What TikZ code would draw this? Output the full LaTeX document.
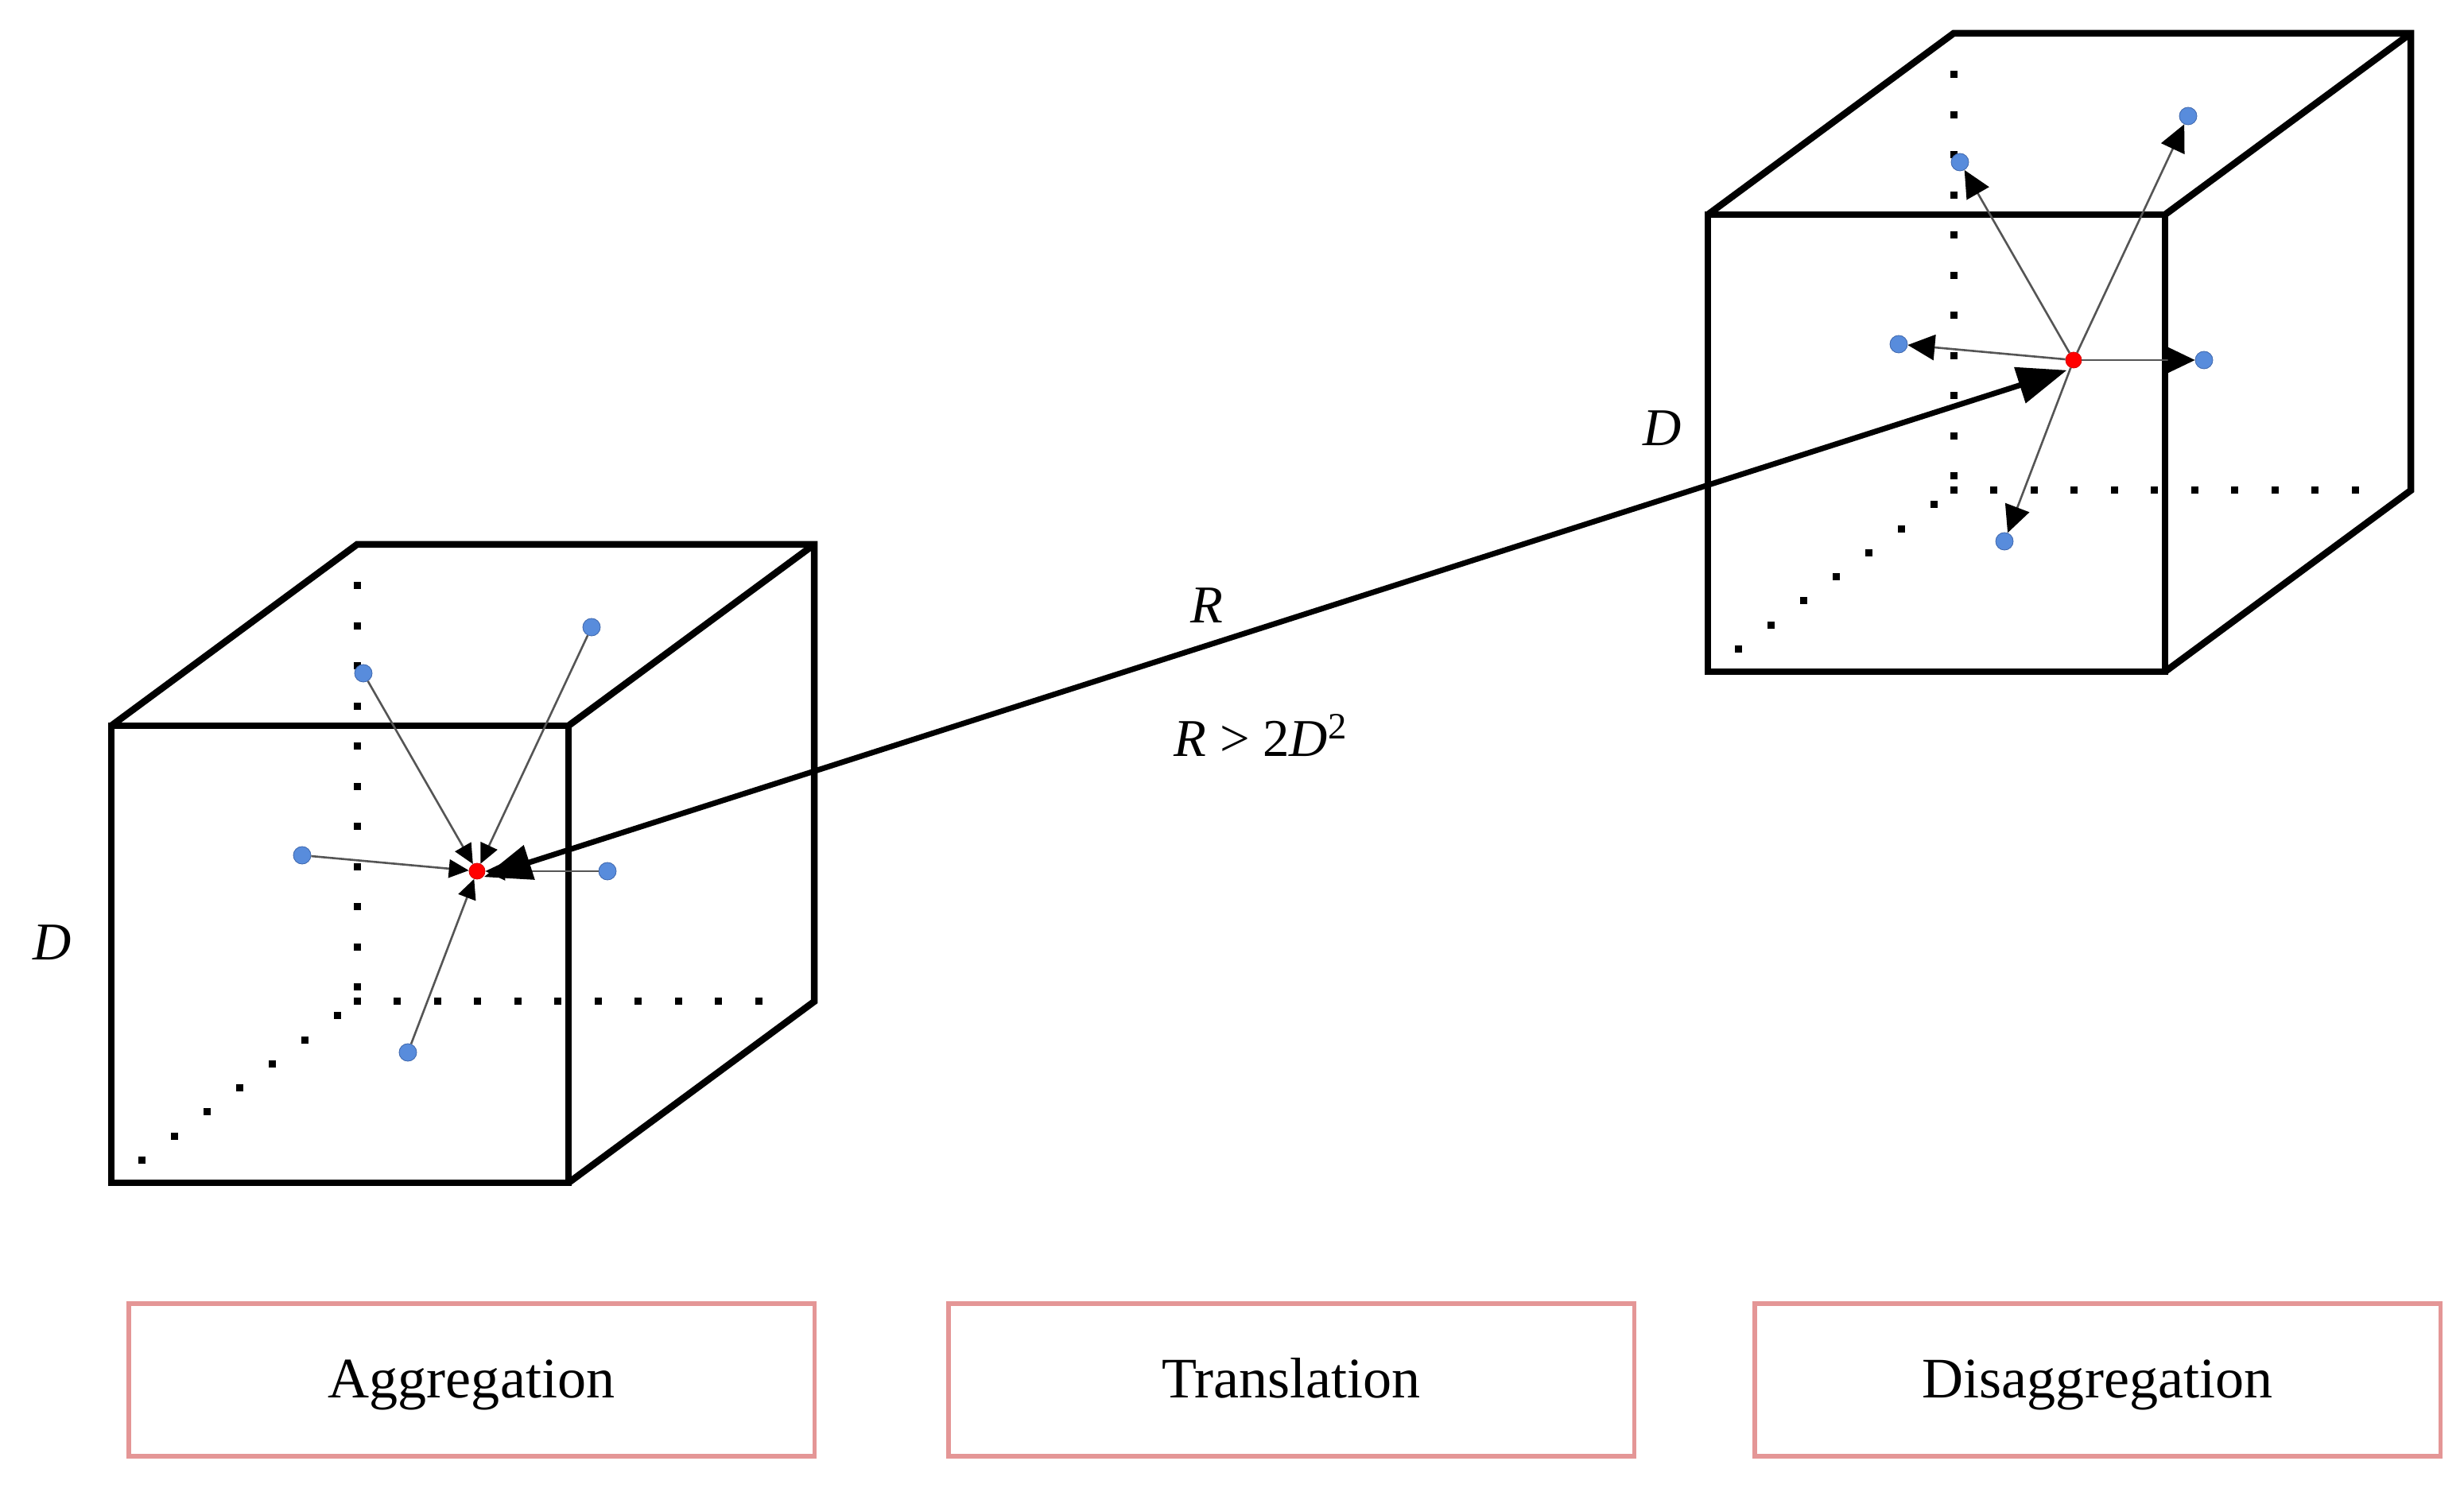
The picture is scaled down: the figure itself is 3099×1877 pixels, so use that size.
\documentclass[tikz,border=0pt]{standalone}
\usepackage{fontspec}
\setmainfont{Liberation Serif}
\usetikzlibrary{arrows.meta}
\definecolor{bluedot}{RGB}{88,140,220}
\definecolor{bluedraw}{RGB}{62,102,172}
\definecolor{boxred}{RGB}{228,150,150}
\definecolor{thingray}{RGB}{85,85,85}
\tikzset{
  cubeline/.style={line width=0.085cm, line join=miter, black},
  bdot/.style={circle, fill=bluedot, draw=bluedraw, line width=0.008cm, minimum size=0.22cm, inner sep=0pt},
  rdot/.style={circle, fill=red, draw=red!85!black, line width=0.008cm, minimum size=0.2cm, inner sep=0pt},
  aggarrow/.style={line width=0.026cm, thingray, -{Triangle[length=0.25cm, width=0.23cm, color=black, fill=black]}},
  disarrow/.style={line width=0.026cm, thingray, -{Triangle[length=0.34cm, width=0.32cm, color=black, fill=black]}},
  mainarrow/.style={line width=0.07cm, black, {Triangle[length=0.6cm, width=0.44cm]}-{Triangle[length=0.62cm, width=0.46cm]}},
  lab/.style={font=\fontsize{19pt}{22pt}\selectfont, inner sep=0pt},
  phase/.style={draw=boxred, line width=0.055cm, minimum width=8.62cm, minimum height=1.92cm, inner sep=0pt, text height=13pt, text depth=0pt, font=\fontsize{20.5pt}{24pt}\selectfont},
  cubepic/.pic={
    \coordinate (-ftl) at (0,0);
    \coordinate (-ftr) at (575,0);
    \coordinate (-fbr) at (575,575);
    \coordinate (-fbl) at (0,575);
    \coordinate (-btl) at (309,-228);
    \coordinate (-btr) at (884,-228);
    \coordinate (-bbr) at (884,347);
    \coordinate (-bbl) at (309,347);
    \foreach \k in {0,...,10} {
      \fill[black] ({309}, {347-18-50.5*\k}) +(-4.5,-4.5) rectangle +(4.5,4.5);
      \fill[black] ({309+50.5*\k}, {347}) +(-4.5,-4.5) rectangle +(4.5,4.5);
    }
    \foreach \k in {0,...,6} {
      \fill[black] ({309-0.8047*(30+51*\k)}, {347+0.5937*(30+51*\k)}) +(-4.5,-4.5) rectangle +(4.5,4.5);
    }
    \draw[cubeline] (-ftl) -- (-ftr) -- (-fbr) -- (-fbl) -- cycle;
    \draw[cubeline] (-ftl) -- (-btl) -- (-btr) -- (-bbr) -- (-fbr);
    \draw[cubeline] (-ftr) -- (-btr);
    \coordinate (-mt) at (460,193);
    \node[rdot] (-red) at (460,183) {};
    \node[bdot] (-a) at (317,-66) {};
    \node[bdot] (-b) at (604,-124) {};
    \node[bdot] (-c) at (240,163) {};
    \node[bdot] (-e) at (624,183) {};
    \node[bdot] (-f) at (373,411) {};
  }
}
\begin{document}
\begin{tikzpicture}[x=0.01cm, y=-0.01cm]
\useasboundingbox (0,0) rectangle (3099,1877);
\fill[white] (0,0) rectangle (3099,1877);

\pic (L) at (140,913) {cubepic};
\pic (R) at (2148,270) {cubepic};

\foreach \p in {a,b,c,e,f} {
  \draw[aggarrow] (L-\p) -- (L-red);
  \draw[disarrow] (R-red) -- (R-\p);
}

\draw[mainarrow, shorten <=0.09cm, shorten >=0.09cm] (L-mt) -- (R-mt);

\node[lab] (dl) at (66,1186) {\textit{D}};
\node[lab] (dr) at (2091,539) {\textit{D}};
\node[lab] (rl) at (1518,762) {\textit{R}};
\node[lab] (cond) at (1586,925) {\textit{R} > 2\textit{D}\textsuperscript{2}};

\node[phase] (agg) at (593,1736) {Aggregation};
\node[phase] (tra) at (1624,1736) {Translation};
\node[phase] (dis) at (2638,1736) {Disaggregation};
\end{tikzpicture}
\end{document}
